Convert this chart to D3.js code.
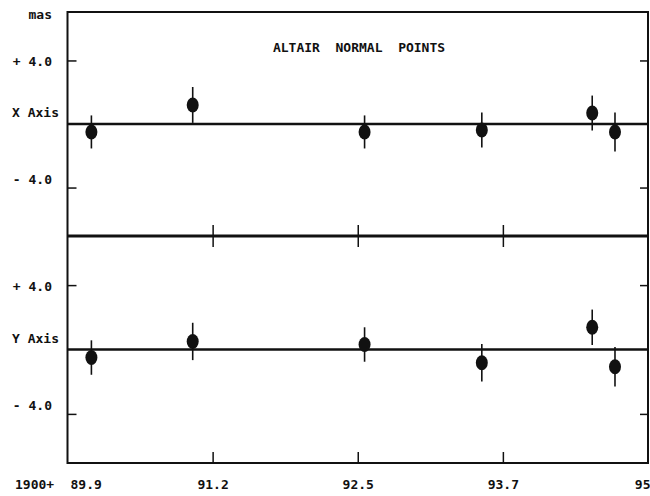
<!DOCTYPE html>
<meta charset="utf-8">
<style>
body { margin: 0; background: #fff; }
text { font-family: "DejaVu Sans Mono", monospace; font-weight: bold; font-size: 13px; fill: #111; }
.frame { fill: none; stroke: #111; stroke-width: 2px; }
.zero { stroke: #111; stroke-width: 2.5px; }
.divider { stroke: #111; stroke-width: 3px; }
.err { stroke: #111; stroke-width: 1.6px; }
.tick line { stroke: #111; stroke-width: 1.5px; }
.domain { display: none; }
</style>
<body>
<script src="https://d3js.org/d3.v7.min.js"></script>
<script>

// epochs (years since 1900) of the normal points
var epochs = [90.11, 91.00, 92.51, 93.54, 94.51, 94.71];

// X axis residuals and errors, mas
var xAxisVals = [-0.5, 1.2, -0.5, -0.38, 0.69, -0.5];
var xAxisErr  = [1.04, 1.13, 1.04, 1.1, 1.1, 1.23];

// Y axis residuals and errors, mas
var yAxisVals = [-0.5, 0.5, 0.31, -0.82, 1.38, -1.07];
var yAxisErr  = [1.07, 1.16, 1.07, 1.16, 1.1, 1.23];

// tick values and labels
var xTickValues = [89.9, 91.175, 92.45, 93.725, 95.0];
var xTickLabels = ["89.9", "91.2", "92.5", "93.7", "95"];
var yTickValues = [4, -4];
var yTickLabels = ["+ 4.0", "- 4.0"];

// frame geometry
var frameL = 67.5, frameR = 648, frameT = 12, frameM = 236, frameB = 463;

var svg = d3.select("body").append("svg")
    .attr("width", 650)
    .attr("height", 496);

var x = d3.scaleLinear().domain([89.9, 95.0]).range([frameL, frameR]);
var yTop = d3.scaleLinear().domain([-7.05, 7.05]).range([frameM, frameT]);
var yBot = d3.scaleLinear().domain([-7.05, 7.05]).range([frameB, frameM]);

// frame
svg.append("rect")
    .attr("class", "frame")
    .attr("x", frameL).attr("y", frameT)
    .attr("width", frameR - frameL).attr("height", frameB - frameT);

// divider between the panels
svg.append("line")
    .attr("class", "divider")
    .attr("x1", frameL).attr("x2", frameR)
    .attr("y1", frameM).attr("y2", frameM);

// x ticks crossing the divider
svg.append("g")
    .attr("transform", "translate(0," + (frameM + 11) + ")")
    .call(d3.axisTop(x).tickValues(xTickValues.slice(1, 4)).tickSize(22).tickFormat(""));

// bottom axis, ticks pointing inward
var bx = svg.append("g")
    .attr("transform", "translate(0," + frameB + ")")
    .call(d3.axisBottom(x).tickValues(xTickValues).tickSizeInner(-11).tickSizeOuter(0).tickPadding(17)
      .tickFormat(function(d, i) { return xTickLabels[i]; }));
bx.selectAll(".tick line").filter(function(d, i) { return i == 0 || i == 4; }).remove();
bx.selectAll(".tick text").filter(function(d, i) { return i == 0; })
    .attr("text-anchor", "start").attr("x", 2.5);
bx.selectAll(".tick text").filter(function(d, i) { return i == 4; })
    .attr("text-anchor", "end").attr("x", 2);

svg.append("text").attr("x", 15).attr("y", 489).text("1900+");

// one panel
function panel(y, vals, errs, name) {
  // y ticks, both sides inward
  svg.append("g")
      .attr("transform", "translate(" + frameL + ",0)")
      .call(d3.axisRight(y).tickValues(yTickValues).tickSize(9).tickFormat(""));
  svg.append("g")
      .attr("transform", "translate(" + frameR + ",0)")
      .call(d3.axisLeft(y).tickValues(yTickValues).tickSize(8).tickFormat(""));

  // zero line
  svg.append("line")
      .attr("class", "zero")
      .attr("x1", frameL).attr("x2", frameR)
      .attr("y1", y(0)).attr("y2", y(0));

  // labels
  svg.selectAll(null)
      .data(yTickValues)
    .enter().append("text")
      .attr("x", 52)
      .attr("y", function(d) { return y(d) + (d > 0 ? 6 : -4); })
      .attr("text-anchor", "end")
      .text(function(d, i) { return yTickLabels[i]; });
  svg.append("text")
      .attr("x", 12)
      .attr("y", y(0) - 7)
      .text(name);

  var pts = epochs.map(function(e, i) { return {t: e, v: vals[i], e: errs[i]}; });

  svg.selectAll(null)
      .data(pts)
    .enter().append("line")
      .attr("class", "err")
      .attr("x1", function(d) { return x(d.t); })
      .attr("x2", function(d) { return x(d.t); })
      .attr("y1", function(d) { return y(d.v + d.e); })
      .attr("y2", function(d) { return y(d.v - d.e); });

  svg.selectAll(null)
      .data(pts)
    .enter().append("ellipse")
      .attr("cx", function(d) { return x(d.t); })
      .attr("cy", function(d) { return y(d.v); })
      .attr("rx", 6)
      .attr("ry", 7.5)
      .attr("fill", "#111");
}

panel(yTop, xAxisVals, xAxisErr, "X Axis");
panel(yBot, yAxisVals, yAxisErr, "Y Axis");

svg.append("text").attr("x", 52).attr("y", 19).attr("text-anchor", "end").text("mas");

svg.append("text")
    .attr("x", 359)
    .attr("y", 52)
    .attr("text-anchor", "middle")
    .style("white-space", "pre")
    .text("ALTAIR  NORMAL  POINTS");

</script>
</body>
